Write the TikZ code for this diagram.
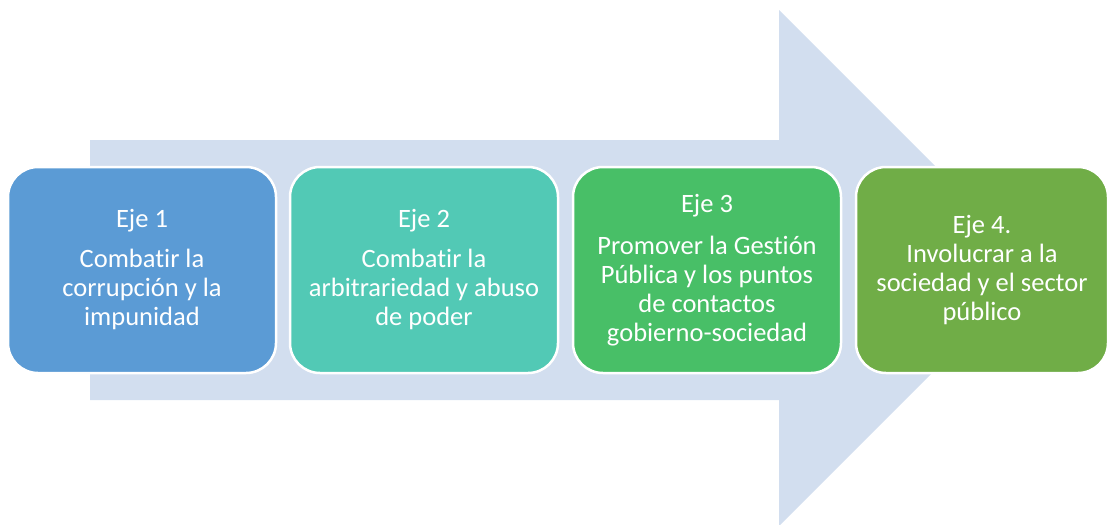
\documentclass[tikz,border=0pt]{standalone}
\usepackage{fontspec}
\setmainfont{Carlito}[Ligatures=NoCommon]
\usetikzlibrary{positioning}

\definecolor{arrowbg}{HTML}{D2DEEF}
\definecolor{ejeblue}{HTML}{5B9BD5}
\definecolor{ejeteal}{HTML}{52C9B5}
\definecolor{ejegreen}{HTML}{48BF67}
\definecolor{ejeolive}{HTML}{70AD47}

\begin{document}
\begin{tikzpicture}[
  x=1pt, y=-1pt,
  eje/.style={rectangle, rounded corners=30pt, draw=white, line width=2.5pt,
    minimum width=268pt, minimum height=206pt, align=center, text=white,
    font=\fontsize{26.5}{29}\selectfont}
  ]

  \useasboundingbox (0,0) rectangle (1109,525);

  % Big arrow behind the boxes
  \fill[arrowbg] (90,140) -- (779,140) -- (779,10) -- (1037,268)
    -- (779,526) -- (779,400) -- (90,400) -- cycle;

  % The four axes
  \node[eje, fill=ejeblue] (eje1) at (142,270) {Eje 1\\[11pt]Combatir la\\corrupción y la\\impunidad};
  \node[eje, fill=ejeteal] (eje2) at (424,270) {Eje 2\\[11pt]Combatir la\\arbitrariedad y abuso\\de poder};
  \node[eje, fill=ejegreen] (eje3) at (707,270) {Eje 3\\[13pt]Promover la Gestión\\Pública y los puntos\\de contactos\\gobierno-sociedad};
  \node[eje, fill=ejeolive, minimum width=252pt] (eje4) at (982,270) {Eje 4.\\Involucrar a la\\sociedad y el sector\\público};

\end{tikzpicture}
\end{document}
